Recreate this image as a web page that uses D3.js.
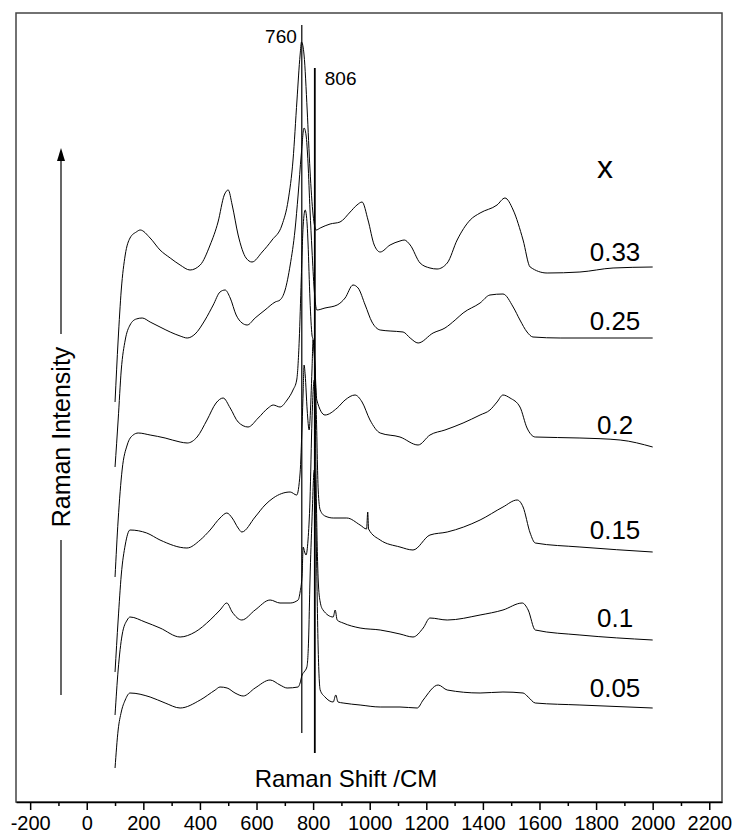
<!DOCTYPE html>
<html>
<head>
<meta charset="utf-8">
<script src="https://cdn.jsdelivr.net/npm/d3@7"></script>
<style>
  body { margin: 0; background: #fff; }
  svg { display: block; font-family: Arial, 'Liberation Sans', sans-serif; }
</style>
</head>
<body>
<script>
const SVG_WIDTH = 733;
const SVG_HEIGHT = 834;
const margin = { top: 13, right: 11, bottom: 32, left: 16 };

// composition labels, top to bottom
const seriesLabels = ['0.33', '0.25', '0.2', '0.15', '0.1', '0.05'];

// [raman shift (cm-1), intensity (a.u., already stacked)]
const s033 = [[100,400],[111,462],[122,512],[136,547],[153,564],[175,570],[189,572],[224,564],[259,552],[295,544],[330,537],[365,532],[401,537],[436,557],[464,580],[486,607],[500,612],[514,597],[535,567],[563,544],[584,540],[620,550],[655,562],[690,577],[712,602],[729,642],[743,702],[754,747],[759,760],[768,747],[779,692],[789,632],[800,587],[811,572],[825,574],[860,578],[895,580],[931,590],[955,597],[973,600],[994,582],[1016,557],[1037,550],[1072,557],[1107,561],[1122,562],[1143,557],[1178,539],[1213,534],[1238,533],[1274,539],[1309,562],[1355,582],[1390,589],[1450,597],[1478,604],[1507,592],[1542,562],[1567,535],[1627,529],[1743,530],[1860,534],[2000,535]];
const s025 = [[100,335],[111,382],[122,432],[136,462],[153,477],[175,483],[196,484],[224,480],[259,475],[295,470],[330,466],[355,464],[383,468],[418,482],[447,497],[471,510],[489,512],[507,504],[528,487],[549,479],[567,477],[595,484],[630,492],[666,500],[683,502],[701,512],[719,537],[736,572],[747,607],[758,647],[768,674],[775,667],[782,639],[789,592],[796,552],[804,512],[813,492],[842,494],[885,497],[913,504],[941,517],[959,514],[984,497],[1008,480],[1037,472],[1072,471],[1118,470],[1143,464],[1171,459],[1224,469],[1266,474],[1302,482],[1330,489],[1390,499],[1425,507],[1471,508],[1507,495],[1531,482],[1556,470],[1577,465],[1673,464],[1814,464],[2000,464]];
const s020 = [[100,225],[111,282],[125,332],[143,357],[164,367],[182,369],[224,367],[277,364],[330,360],[355,359],[390,365],[425,382],[457,399],[482,404],[507,394],[535,380],[570,375],[606,384],[641,394],[659,397],[683,395],[708,402],[729,412],[742,422],[751,462],[758,522],[765,577],[772,592],[779,577],[782,559],[789,502],[796,467],[800,462],[807,432],[813,402],[842,387],[885,394],[913,402],[948,407],[973,400],[1001,382],[1037,369],[1107,365],[1171,357],[1213,367],[1266,372],[1330,379],[1390,387],[1425,392],[1450,400],[1471,407],[1496,404],[1531,395],[1556,374],[1585,365],[1743,364],[1885,362],[2000,355]];
const s015 = [[100,130],[111,182],[122,227],[136,257],[153,272],[212,269],[259,262],[354,254],[401,262],[436,272],[471,284],[495,289],[514,284],[535,274],[548,270],[595,285],[630,297],[659,304],[719,310],[742,307],[754,329],[761,377],[765,412],[768,437],[772,427],[779,392],[786,372],[789,382],[796,432],[800,462],[804,452],[811,392],[818,312],[825,292],[842,286],[871,284],[919,284],[966,277],[989,273],[993,290],[996,273],[1037,262],[1107,255],[1153,252],[1213,267],[1274,270],[1390,282],[1471,295],[1521,302],[1542,295],[1567,269],[1585,259],[1743,255],[2000,250]];
const s010 = [[100,87],[111,132],[125,167],[143,182],[153,185],[206,180],[259,174],[330,165],[383,170],[436,182],[471,192],[495,199],[514,190],[548,182],[595,192],[648,202],[683,199],[719,199],[747,202],[754,210],[761,227],[765,255],[770,250],[775,247],[782,262],[789,302],[796,382],[804,422],[807,402],[811,312],[818,222],[825,200],[835,192],[871,185],[878,192],[885,182],[906,179],[966,174],[1037,172],[1107,168],[1153,165],[1189,174],[1213,184],[1274,182],[1390,187],[1471,192],[1539,199],[1560,192],[1585,172],[1743,167],[2000,162]];
const s005 = [[100,34],[111,72],[122,90],[136,102],[153,109],[224,105],[277,99],[330,94],[401,102],[454,112],[471,115],[496,114],[524,109],[553,106],[595,114],[648,122],[683,117],[708,114],[747,115],[754,119],[761,127],[768,130],[778,135],[784,162],[789,222],[796,282],[804,332],[807,322],[811,262],[818,152],[825,112],[842,105],[871,100],[880,107],[888,100],[906,99],[966,97],[1037,95],[1107,95],[1168,94],[1189,102],[1242,117],[1274,112],[1390,109],[1471,110],[1542,109],[1560,105],[1585,99],[1743,97],[2000,94]];

const spectra = [s033, s025, s020, s015, s010, s005];

const peakMarks = [760, 806];
const xTicks = d3.range(-200, 2201, 200);
const xMinorTicks = d3.range(-100, 2201, 200);

const svg = d3.select('body').append('svg')
    .attr('width', SVG_WIDTH)
    .attr('height', SVG_HEIGHT);

const x = d3.scaleLinear()
    .domain([-250, 2245])
    .range([margin.left, SVG_WIDTH - margin.right]);

const y = d3.scaleLinear()
    .domain([0, 789])
    .range([SVG_HEIGHT - margin.bottom, margin.top]);

// frame
svg.append('rect')
    .attr('x', margin.left)
    .attr('y', margin.top)
    .attr('width', SVG_WIDTH - margin.left - margin.right)
    .attr('height', SVG_HEIGHT - margin.top - margin.bottom)
    .attr('fill', 'none')
    .attr('stroke', '#444')
    .attr('stroke-width', 1.5);

// bottom axis, major + minor ticks
const axisY = SVG_HEIGHT - margin.bottom;
const gx = svg.append('g')
    .attr('transform', `translate(0,${axisY})`)
    .call(d3.axisBottom(x).tickValues(xTicks).tickSize(8).tickSizeOuter(0)
      .tickPadding(6).tickFormat(d => String(d)));
gx.select('.domain').attr('stroke', '#000').attr('stroke-width', 1.5);
gx.selectAll('.tick line').attr('stroke-width', 1.5);
gx.selectAll('.tick text')
    .attr('font-size', 20)
    .attr('font-family', 'Arial, Liberation Sans, sans-serif')
    .attr('fill', '#000');

svg.append('g')
    .attr('transform', `translate(0,${axisY})`)
    .call(d3.axisBottom(x).tickValues(xMinorTicks).tickSize(4).tickFormat(''))
    .call(g => g.select('.domain').remove())
    .selectAll('.tick line').attr('stroke-width', 1.5);

// spectra
const line = d3.line()
    .x(d => x(d[0]))
    .y(d => y(d[1]))
    .curve(d3.curveMonotoneX);

svg.append('g').selectAll('path')
  .data(spectra)
  .join('path')
    .attr('d', line)
    .attr('fill', 'none')
    .attr('stroke', '#000')
    .attr('stroke-width', 1);

// composition labels sit a little above each trace's tail
const LABEL_SHIFT = 1867;
svg.append('g').selectAll('text')
  .data(spectra)
  .join('text')
    .attr('x', x(LABEL_SHIFT))
    .attr('y', d => y(d3.mean(d.slice(-3), p => p[1])) - 8)
    .attr('text-anchor', 'middle')
    .attr('font-size', 26)
    .text((d, i) => seriesLabels[i]);

svg.append('text')
    .attr('x', x(LABEL_SHIFT) - 10)
    .attr('y', y(624))
    .attr('text-anchor', 'middle')
    .attr('font-size', 32)
    .text('x');

// peak marker lines
const markExtent = [[69, 777], [49, 734]];
peakMarks.forEach((p, i) => {
  svg.append('line')
    .attr('x1', x(p)).attr('x2', x(p))
    .attr('y1', y(markExtent[i][0])).attr('y2', y(markExtent[i][1]))
    .attr('stroke', '#000')
    .attr('stroke-width', i === 1 ? 1.8 : 1.2);
});
svg.append('text')
    .attr('x', x(peakMarks[0]) - 5)
    .attr('y', y(759))
    .attr('text-anchor', 'end')
    .attr('font-size', 19)
    .text(peakMarks[0]);
svg.append('text')
    .attr('x', x(peakMarks[1]) + 10)
    .attr('y', y(717))
    .attr('text-anchor', 'start')
    .attr('font-size', 19)
    .text(peakMarks[1]);

// axis titles
svg.append('text')
    .attr('x', 346)
    .attr('y', 787)
    .attr('text-anchor', 'middle')
    .attr('font-size', 24)
    .text('Raman Shift /CM');

const arrowX = 61;
svg.append('line')
    .attr('x1', arrowX).attr('x2', arrowX)
    .attr('y1', 695).attr('y2', 540)
    .attr('stroke', '#000').attr('stroke-width', 1.2);
svg.append('line')
    .attr('x1', arrowX).attr('x2', arrowX)
    .attr('y1', 334).attr('y2', 158)
    .attr('stroke', '#000').attr('stroke-width', 1.2);
svg.append('path')
    .attr('d', `M${arrowX},148 L${arrowX - 4},161 L${arrowX + 4},161 Z`)
    .attr('fill', '#000');
svg.append('text')
    .attr('transform', `translate(${arrowX + 9},437) rotate(-90)`)
    .attr('text-anchor', 'middle')
    .attr('font-size', 25)
    .text('Raman Intensity');
</script>
</body>
</html>
